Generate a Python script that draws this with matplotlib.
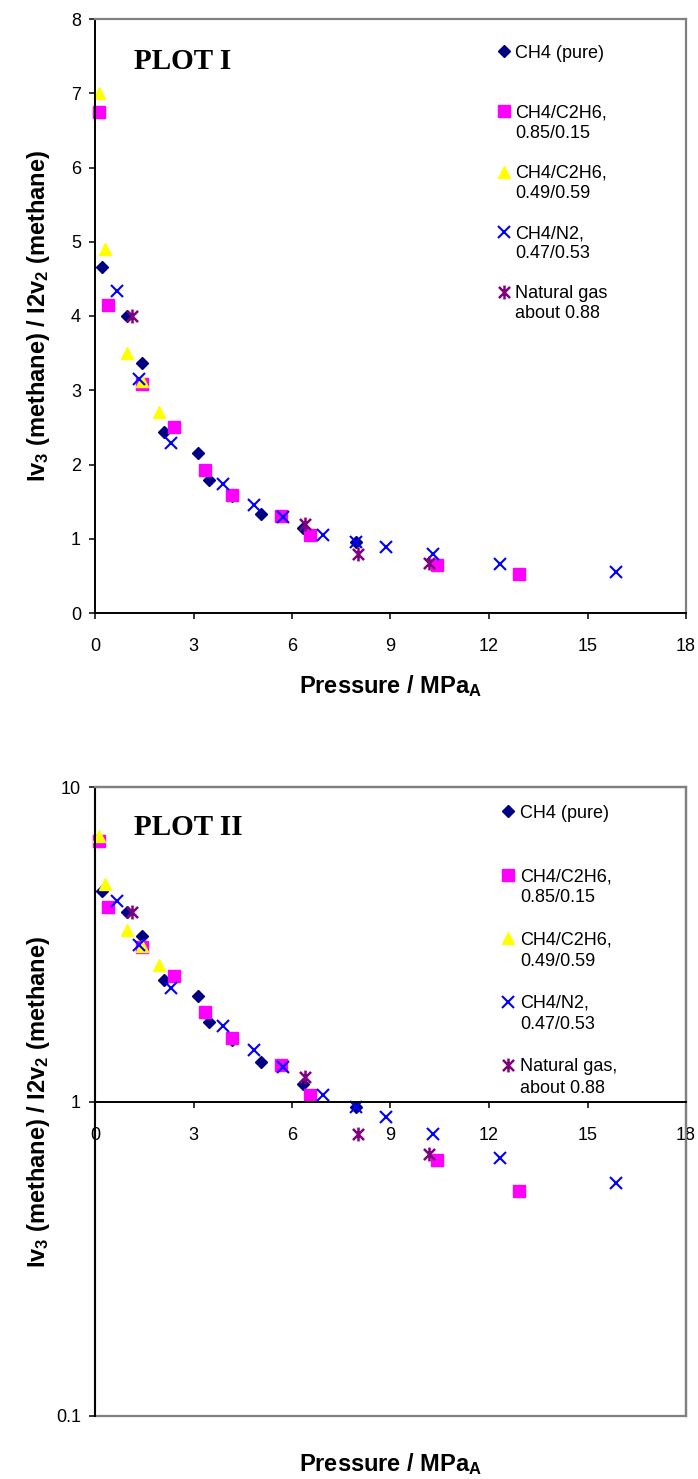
import matplotlib
matplotlib.use("Agg")
import matplotlib.pyplot as plt
from matplotlib.lines import Line2D
from matplotlib.path import Path
from matplotlib.patches import Rectangle
from matplotlib.ticker import NullLocator

plt.rcParams['font.family'] = ['Liberation Sans', 'DejaVu Sans']
plt.rcParams['mathtext.fontset'] = 'custom'
plt.rcParams['mathtext.bf'] = 'Liberation Sans:bold'
plt.rcParams['mathtext.rm'] = 'Liberation Sans:bold'
plt.rcParams['mathtext.default'] = 'bf'

# Pressure (MPa) and intensity ratio for each gas
ch4_pure_p = [0.21, 0.96, 1.44, 2.11, 3.13, 3.47, 4.18, 5.06, 6.35, 7.94]
ch4_pure_r = [4.66, 4.00, 3.37, 2.44, 2.16, 1.79, 1.57, 1.34, 1.14, 0.96]

c2h6_a_p = [0.12, 0.41, 1.44, 2.42, 3.35, 4.18, 5.66, 6.55, 10.41, 12.90]
c2h6_a_r = [6.75, 4.15, 3.09, 2.50, 1.92, 1.59, 1.31, 1.05, 0.65, 0.52]

c2h6_b_p = [0.12, 0.30, 0.96, 1.42, 1.96]
c2h6_b_r = [7.00, 4.90, 3.50, 3.13, 2.71]

n2_p = [0.66, 1.34, 2.31, 3.89, 4.85, 5.74, 6.93, 7.94, 8.86, 10.29, 12.32, 15.87]
n2_r = [4.33, 3.15, 2.29, 1.74, 1.46, 1.29, 1.05, 0.96, 0.89, 0.79, 0.66, 0.55]

ng_p = [1.12, 6.40, 8.00, 10.18]
ng_r = [4.00, 1.20, 0.79, 0.68]

x_ticks = [0, 3, 6, 9, 12, 15, 18]
lin_y_ticks = [0, 1, 2, 3, 4, 5, 6, 7, 8]
log_y_ticks = [0.1, 1, 10]
log_y_labels = ["0.1", "1", "10"]

labels_top = ["CH4 (pure)", ["CH4/C2H6,", "0.85/0.15"], ["CH4/C2H6,", "0.49/0.59"],
              ["CH4/N2,", "0.47/0.53"], ["Natural gas", "about 0.88"]]
labels_bottom = ["CH4 (pure)", ["CH4/C2H6,", "0.85/0.15"], ["CH4/C2H6,", "0.49/0.59"],
                 ["CH4/N2,", "0.47/0.53"], ["Natural gas,", "about 0.88"]]

# Asterisk marker: an x with a vertical bar through it
star_path = Path(
    [(0, -1), (0, 1), (-0.8, -0.8), (0.8, 0.8), (-0.8, 0.8), (0.8, -0.8)],
    [Path.MOVETO, Path.LINETO, Path.MOVETO, Path.LINETO, Path.MOVETO, Path.LINETO],
)

series = [
    (ch4_pure_p, ch4_pure_r, dict(marker='D', ms=6.2, color='#000080', mec='#000080')),
    (c2h6_a_p, c2h6_a_r, dict(marker='s', ms=8.4, color='#FF00FF', mec='#FF00FF')),
    (c2h6_b_p, c2h6_b_r, dict(marker='^', ms=8.6, color='#FFFF00', mec='#FFFF00')),
    (n2_p, n2_r, dict(marker='x', ms=8.4, color='#0000FF', mew=1.5)),
    (ng_p, ng_r, dict(marker=star_path, ms=10, color='#800080', mew=1.8)),
]

W, H = 698, 1479
fig = plt.figure(figsize=(W / 100, H / 100), dpi=100)


def px_axes(left, top, right, bottom):
    return fig.add_axes([left / W, 1 - bottom / H, (right - left) / W, (bottom - top) / H])


def style_axes(ax):
    for s in ('top', 'right'):
        ax.spines[s].set_color('#808080')
        ax.spines[s].set_linewidth(1.6)
    for s in ('left', 'bottom'):
        ax.spines[s].set_color('black')
        ax.spines[s].set_linewidth(1.4)
    ax.tick_params(direction='out', length=4, width=1.1, labelsize=13, colors='black')
    ax.set_xlim(0, 18)
    ax.set_xticks(x_ticks)


def draw_series(ax):
    handles = []
    for xs, ys, kw in series:
        h, = ax.plot(xs, ys, linestyle='none', clip_on=False, **kw)
        handles.append(h)
    return handles


def build_legend(ax, handles, labels, anchor, spacing, textpad):
    blank = Line2D([], [], linestyle='none', marker='none')
    hs, ls = [], []
    for i, (h, lab) in enumerate(zip(handles, labels)):
        lines = [lab] if isinstance(lab, str) else lab
        hs.append(h)
        ls.append(lines[0])
        for extra in lines[1:]:
            hs.append(blank)
            ls.append(extra)
        if i < len(handles) - 1:
            n_fill = 2 if len(lines) == 1 else 1
            for _ in range(n_fill):
                hs.append(blank)
                ls.append(" ")
    leg = ax.legend(hs, ls, loc='upper left', bbox_to_anchor=anchor, frameon=False,
                    fontsize=13, numpoints=1, handlelength=0.8, handletextpad=textpad,
                    labelspacing=spacing, borderpad=0, borderaxespad=0)
    return leg


ylabel = "Iv$_3$ (methane) / I2v$_2$ (methane)"
xlabel = "Pressure / MPa$_{A}$"

# ---- linear scale panel ----
ax1 = px_axes(95, 19, 686, 613)
style_axes(ax1)
ax1.set_ylim(0, 8)
ax1.set_yticks(lin_y_ticks)
h1 = draw_series(ax1)
ax1.set_xlabel(xlabel, fontsize=17, fontweight='bold')
ax1.set_ylabel(ylabel, fontsize=17, fontweight='bold')
ax1.xaxis.set_label_coords(0.5, -0.101)
ax1.yaxis.set_label_coords(-0.073, 0.5)
ax1.tick_params(axis='x', pad=14)
ax1.tick_params(axis='y', pad=6)
ax1.text(0.066, 0.928, "PLOT I", transform=ax1.transAxes, family='Liberation Serif',
         fontweight='bold', fontsize=21, va='center', ha='left')
build_legend(ax1, h1, labels_top, (0.68, 0.957), 0.17, 0.21)

# ---- logarithmic scale panel ----
ax2 = px_axes(95, 787, 686, 1416)
style_axes(ax2)
ax2.set_yscale('log')
ax2.set_ylim(0.1, 10)
ax2.set_yticks(log_y_ticks)
ax2.set_yticklabels(log_y_labels)
ax2.yaxis.set_minor_locator(NullLocator())
ax2.spines['bottom'].set_position(('data', 1))
ax2.add_patch(Rectangle((0, 0), 1, 1, transform=ax2.transAxes, fill=False,
                        edgecolor='#808080', linewidth=1.6, zorder=0.5, clip_on=False))
h2 = draw_series(ax2)
ax2.set_ylabel(ylabel, fontsize=17, fontweight='bold')
ax2.yaxis.set_label_coords(-0.073, 0.5)
ax2.tick_params(axis='x', pad=14)
ax2.tick_params(axis='y', pad=6)
ax2.text(1 / 2, -0.077, xlabel, transform=ax2.transAxes, fontsize=17, fontweight='bold',
         ha='center', va='center')
ax2.text(0.066, 0.936, "PLOT II", transform=ax2.transAxes, family='Liberation Serif',
         fontweight='bold', fontsize=21, va='center', ha='left')
build_legend(ax2, h2, labels_bottom, (0.687, 0.972), 0.23, 0.27)

fig.savefig("out.png", dpi=100)
